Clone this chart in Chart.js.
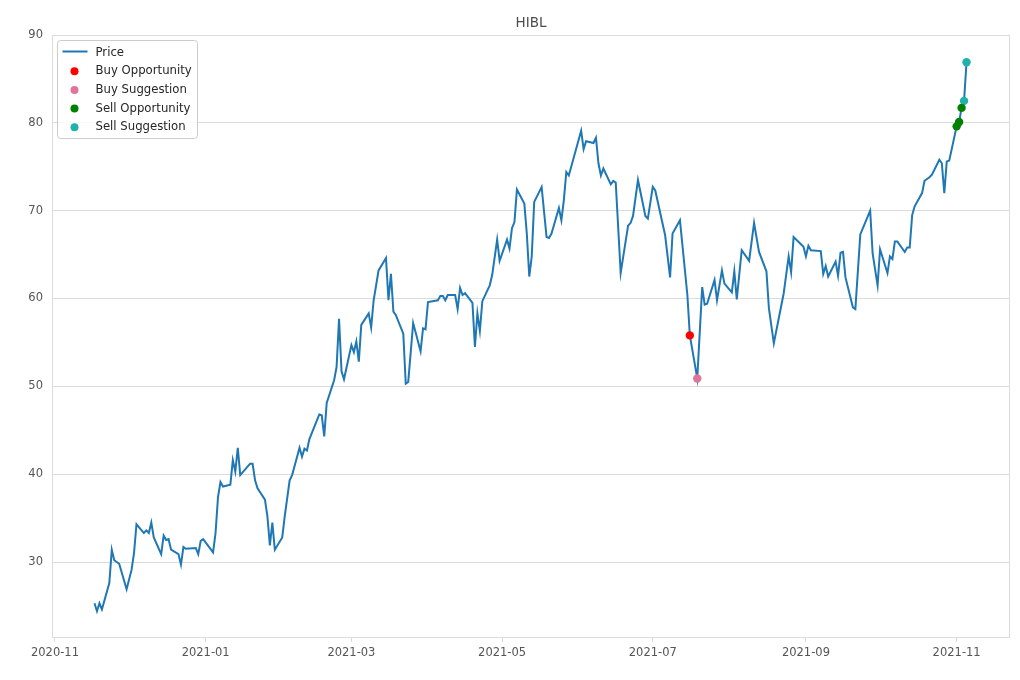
<!DOCTYPE html>
<html>
<head>
<meta charset="utf-8">
<script src="https://cdn.jsdelivr.net/npm/chart.js@4.4.0/dist/chart.umd.min.js"></script>
<style>
  html, body { margin: 0; padding: 0; background: #fff; }
  canvas { display: block; }
</style>
</head>
<body>
<canvas id="chart" width="1020" height="680"></canvas>
<script>
// HIBL - precio diario y señales
const titulo = 'HIBL';

const fechas = [
  '2020-11-17','2020-11-18','2020-11-19','2020-11-20','2020-11-23','2020-11-24','2020-11-25','2020-11-27','2020-11-30',
  '2020-12-02','2020-12-03','2020-12-04','2020-12-07','2020-12-08','2020-12-09','2020-12-10','2020-12-11','2020-12-14',
  '2020-12-15','2020-12-16','2020-12-17','2020-12-18','2020-12-21','2020-12-22','2020-12-23','2020-12-24','2020-12-28',
  '2020-12-29','2020-12-30','2020-12-31',
  '2021-01-04','2021-01-05','2021-01-06','2021-01-07','2021-01-08','2021-01-11','2021-01-12','2021-01-13','2021-01-14',
  '2021-01-15','2021-01-19','2021-01-20','2021-01-21','2021-01-22','2021-01-25','2021-01-26','2021-01-27','2021-01-28',
  '2021-01-29',
  '2021-02-01','2021-02-02','2021-02-04','2021-02-05','2021-02-08','2021-02-09','2021-02-10','2021-02-11','2021-02-12',
  '2021-02-16','2021-02-17','2021-02-18','2021-02-19','2021-02-22','2021-02-23','2021-02-24','2021-02-25','2021-02-26',
  '2021-03-01','2021-03-02','2021-03-03','2021-03-04','2021-03-05','2021-03-08','2021-03-09','2021-03-10','2021-03-12',
  '2021-03-15','2021-03-16','2021-03-17','2021-03-18','2021-03-19','2021-03-22','2021-03-23','2021-03-24','2021-03-26',
  '2021-03-29','2021-03-30','2021-03-31',
  '2021-04-01','2021-04-05','2021-04-06','2021-04-07','2021-04-08','2021-04-09','2021-04-12','2021-04-13','2021-04-14',
  '2021-04-15','2021-04-16','2021-04-19','2021-04-20','2021-04-21','2021-04-22','2021-04-23','2021-04-26','2021-04-27',
  '2021-04-29','2021-04-30',
  '2021-05-03','2021-05-04','2021-05-05','2021-05-06','2021-05-07','2021-05-10','2021-05-11','2021-05-12','2021-05-13',
  '2021-05-14','2021-05-17','2021-05-19','2021-05-20','2021-05-21','2021-05-24','2021-05-25','2021-05-26','2021-05-27',
  '2021-05-28',
  '2021-06-02','2021-06-03','2021-06-04','2021-06-07','2021-06-08','2021-06-09','2021-06-10','2021-06-11','2021-06-14',
  '2021-06-15','2021-06-16','2021-06-18','2021-06-21','2021-06-22','2021-06-23','2021-06-25','2021-06-28','2021-06-29',
  '2021-07-01','2021-07-02','2021-07-06','2021-07-08','2021-07-09','2021-07-12','2021-07-15','2021-07-16','2021-07-19',
  '2021-07-21','2021-07-22','2021-07-23','2021-07-26','2021-07-27','2021-07-29','2021-07-30',
  '2021-08-02','2021-08-03','2021-08-04','2021-08-06','2021-08-09','2021-08-11','2021-08-13','2021-08-16','2021-08-17',
  '2021-08-19','2021-08-23','2021-08-25','2021-08-26','2021-08-27','2021-08-31',
  '2021-09-01','2021-09-02','2021-09-03','2021-09-07','2021-09-08','2021-09-09','2021-09-10','2021-09-13','2021-09-14',
  '2021-09-15','2021-09-16','2021-09-17','2021-09-20','2021-09-21','2021-09-23','2021-09-27','2021-09-28','2021-09-30',
  '2021-10-01','2021-10-04','2021-10-05','2021-10-06','2021-10-07','2021-10-08','2021-10-11','2021-10-12','2021-10-13',
  '2021-10-14','2021-10-15','2021-10-18','2021-10-19','2021-10-21','2021-10-22','2021-10-25','2021-10-26','2021-10-27',
  '2021-10-28','2021-10-29',
  '2021-11-01','2021-11-02','2021-11-03','2021-11-04','2021-11-05'
];

const precios = [
  25.3, 24.4, 25.3, 24.6, 27.6, 31.4, 30.2, 29.8, 26.9,
  29.1, 31.0, 34.3, 33.3, 33.6, 33.3, 34.5, 32.8, 30.9,
  33.0, 32.5, 32.6, 31.4, 30.9, 29.7, 31.7, 31.5, 31.6,
  30.9, 32.4, 32.6,
  31.1, 33.3, 37.4, 39.1, 38.6, 38.8, 41.6, 40.3, 43.0,
  39.9, 41.2, 41.2, 39.3, 38.4, 37.1, 35.2, 31.9, 34.5,
  31.4,
  32.8, 35.2, 39.3, 39.9, 43.0, 42.0, 42.9, 42.7, 44.0,
  46.8, 46.7, 44.3, 48.1, 50.7, 52.2, 57.7, 51.7, 50.8,
  54.7, 53.9, 55.1, 52.8, 57.0, 58.3, 56.7, 59.8, 63.2,
  64.6, 59.8, 62.8, 58.5, 58.1, 56.0, 50.3, 50.5, 57.2,
  54.0, 56.6, 56.5,
  59.6, 59.8, 60.3, 60.3, 59.8, 60.4, 60.4, 58.8, 61.2,
  60.4, 60.6, 59.5, 54.5, 58.3, 56.3, 59.7, 61.5, 62.7,
  66.7, 64.3,
  66.7, 65.7, 68.0, 68.7, 72.4, 70.8, 67.4, 62.5, 64.8,
  71.0, 72.7, 67.0, 66.9, 67.4, 70.3, 68.9, 71.2, 74.4,
  74.0,
  79.1, 77.0, 77.9, 77.7, 78.3, 75.4, 74.0, 74.8, 73.0,
  73.4, 73.2, 62.9, 68.3, 68.6, 69.4, 73.5, 69.4, 69.1,
  72.7, 72.3, 67.2, 62.4, 67.4, 68.9, 60.4, 55.8, 50.9,
  61.3, 59.3, 59.4, 62.1, 59.8, 63.2, 61.7,
  60.7, 63.1, 59.9, 65.5, 64.3, 68.6, 65.3, 63.1, 58.9,
  54.9, 60.6, 64.8, 63.0, 67.0, 65.9,
  64.8, 66.0, 65.5, 65.4, 62.8, 63.7, 62.5, 64.2, 62.6,
  65.2, 65.3, 62.4, 59.0, 58.8, 67.3, 70.0, 65.1, 61.5,
  65.6, 62.9, 64.8, 64.5, 66.5, 66.5, 65.3, 65.8, 65.8,
  69.5, 70.5, 72.0, 73.4, 73.8, 74.1, 75.8, 75.4, 72.0,
  75.6, 75.7,
  79.6, 80.1, 81.7, 82.5, 86.9
];

// señales
const compraOportunidadFechas = ['2021-07-16'];
const compraOportunidadPrecios = [55.8];
const compraSugerenciaFechas = ['2021-07-19'];
const compraSugerenciaPrecios = [50.9];
const ventaOportunidadFechas = ['2021-11-01', '2021-11-02', '2021-11-03'];
const ventaOportunidadPrecios = [79.6, 80.1, 81.7];
const ventaSugerenciaFechas = ['2021-11-04', '2021-11-05'];
const ventaSugerenciaPrecios = [82.5, 86.9];

// etiquetas de ejes
const etiquetasMes = ['2020-11', '2021-01', '2021-03', '2021-05', '2021-07', '2021-09', '2021-11'];
const ticksY = [30, 40, 50, 60, 70, 80, 90];

// eje x en días desde 2020-11-01 (sin adaptador de fechas)
const origen = Date.UTC(2020, 10, 1);
function aDia(s) {
  const p = s.split('-').map(Number);
  return (Date.UTC(p[0], p[1] - 1, p[2] || 1) - origen) / 86400000;
}
const puntos = (fs, ps) => fs.map((f, i) => ({ x: aDia(f), y: ps[i] }));

const mesPorDia = new Map(etiquetasMes.map(m => [aDia(m), m]));

const FUENTE = '"DejaVu Sans", sans-serif';
const GRIS = '#dcdcdc';

const series = [
  { label: 'Price', color: '#1f77b4', tipo: 'linea' },
  { label: 'Buy Opportunity', color: '#ff0000' },
  { label: 'Buy Suggestion', color: '#e0759a' },
  { label: 'Sell Opportunity', color: '#008000' },
  { label: 'Sell Suggestion', color: '#20b2aa' }
];

// marco, título y leyenda dibujados a mano (estilo matplotlib)
const extras = {
  id: 'extras',
  afterDraw(chart) {
    const { ctx, chartArea: a } = chart;
    ctx.save();
    ctx.strokeStyle = GRIS;
    ctx.lineWidth = 1;
    ctx.strokeRect(a.left + 0.5, a.top + 0.5, a.right - a.left - 1, a.bottom - a.top - 1);

    ctx.fillStyle = '#4d4d4d';
    ctx.font = '13.5px ' + FUENTE;
    ctx.textAlign = 'center';
    ctx.textBaseline = 'alphabetic';
    ctx.fillText(titulo, (a.left + a.right) / 2, 27);

    const bx = a.left + 5.5, by = a.top + 5.5, bw = 140, bh = 98;
    ctx.fillStyle = 'rgba(255,255,255,0.85)';
    ctx.strokeStyle = '#cccccc';
    ctx.beginPath();
    ctx.roundRect(bx, by, bw, bh, 3);
    ctx.fill();
    ctx.stroke();

    ctx.font = '11.7px ' + FUENTE;
    ctx.textAlign = 'left';
    ctx.textBaseline = 'middle';
    series.forEach((s, i) => {
      const y = by + 11 + i * 18.7;
      if (s.tipo === 'linea') {
        ctx.strokeStyle = s.color;
        ctx.lineWidth = 2;
        ctx.beginPath();
        ctx.moveTo(bx + 5, y);
        ctx.lineTo(bx + 30, y);
        ctx.stroke();
      } else {
        ctx.fillStyle = s.color;
        ctx.beginPath();
        ctx.arc(bx + 17, y + 1, 4, 0, Math.PI * 2);
        ctx.fill();
      }
      ctx.fillStyle = '#262626';
      ctx.fillText(s.label, bx + 38, y + 1);
    });
    ctx.restore();
  }
};

const marcador = (i, datos) => ({
  label: series[i].label,
  data: datos,
  showLine: false,
  pointRadius: 4.2,
  pointHoverRadius: 4.2,
  pointBackgroundColor: series[i].color,
  pointBorderColor: series[i].color,
  pointBorderWidth: 0,
  order: 0
});

new Chart(document.getElementById('chart'), {
  type: 'line',
  data: {
    datasets: [
      {
        label: series[0].label,
        data: puntos(fechas, precios),
        borderColor: series[0].color,
        borderWidth: 2,
        pointRadius: 0,
        tension: 0,
        fill: false,
        order: 1
      },
      marcador(1, puntos(compraOportunidadFechas, compraOportunidadPrecios)),
      marcador(2, puntos(compraSugerenciaFechas, compraSugerenciaPrecios)),
      marcador(3, puntos(ventaOportunidadFechas, ventaOportunidadPrecios)),
      marcador(4, puntos(ventaSugerenciaFechas, ventaSugerenciaPrecios))
    ]
  },
  options: {
    responsive: false,
    animation: false,
    devicePixelRatio: 1,
    layout: { padding: { top: 35, right: 10, left: 0, bottom: 0 } },
    plugins: {
      legend: { display: false },
      title: { display: false },
      tooltip: { enabled: false }
    },
    scales: {
      x: {
        type: 'linear',
        min: -1.2,
        max: 386.6,
        afterBuildTicks: s => { s.ticks = etiquetasMes.map(m => ({ value: aDia(m) })); },
        afterFit: s => { s.height = 42; },
        grid: { display: true, drawOnChartArea: false, color: GRIS, tickLength: 4 },
        border: { display: false },
        ticks: {
          color: '#555555',
          font: { family: FUENTE, size: 11.5 },
          padding: 4,
          maxRotation: 0,
          autoSkip: false,
          callback: v => mesPorDia.get(v) || ''
        }
      },
      y: {
        type: 'linear',
        min: 21.35,
        max: 90,
        afterBuildTicks: s => { s.ticks = ticksY.map(v => ({ value: v })); },
        afterFit: s => { s.width = 52; },
        grid: { color: GRIS, lineWidth: 1, tickLength: 0 },
        border: { display: false },
        ticks: {
          color: '#555555',
          font: { family: FUENTE, size: 11.5 },
          padding: 9,
          callback: v => String(v)
        }
      }
    }
  },
  plugins: [extras]
});
</script>
</body>
</html>
